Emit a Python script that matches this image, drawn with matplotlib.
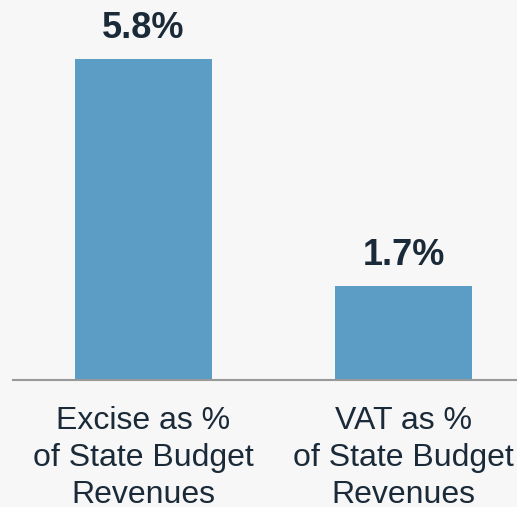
import matplotlib.pyplot as plt

categories = ['Excise as %\nof State Budget\nRevenues', 'VAT as %\nof State Budget\nRevenues']
values = [5.8, 1.7]
value_labels = ['5.8%', '1.7%']

bg = '#F7F7F7'
bar_color = '#5B9DC5'
text_color = '#1B2A38'

plt.rcParams['font.family'] = ['Liberation Sans', 'DejaVu Sans']

fig = plt.figure(figsize=(5.17, 5.07), dpi=100, facecolor=bg)
ax = fig.add_axes([13 / 517, 127 / 507, 504 / 517, 380 / 507])
ax.set_facecolor(bg)

x = range(len(values))
ax.bar(x, values, width=0.527, color=bar_color)

for i, v in enumerate(values):
    ax.text(i, v + 0.38, value_labels[i], ha='center', va='baseline',
            fontsize=26, fontweight='bold', color=text_color)

ax.set_xlim(-0.502, 1.4365)
ax.set_ylim(0, 6.86)

for s in ['top', 'right', 'left']:
    ax.spines[s].set_visible(False)
ax.spines['bottom'].set_color('#999999')
ax.spines['bottom'].set_linewidth(1.5)
ax.set_yticks([])
ax.set_xticks(list(x))
ax.set_xticklabels(categories, fontsize=23, color=text_color, linespacing=1.3)
ax.tick_params(axis='x', length=0, pad=19)

fig.savefig('out.png', dpi=100, facecolor=bg)
